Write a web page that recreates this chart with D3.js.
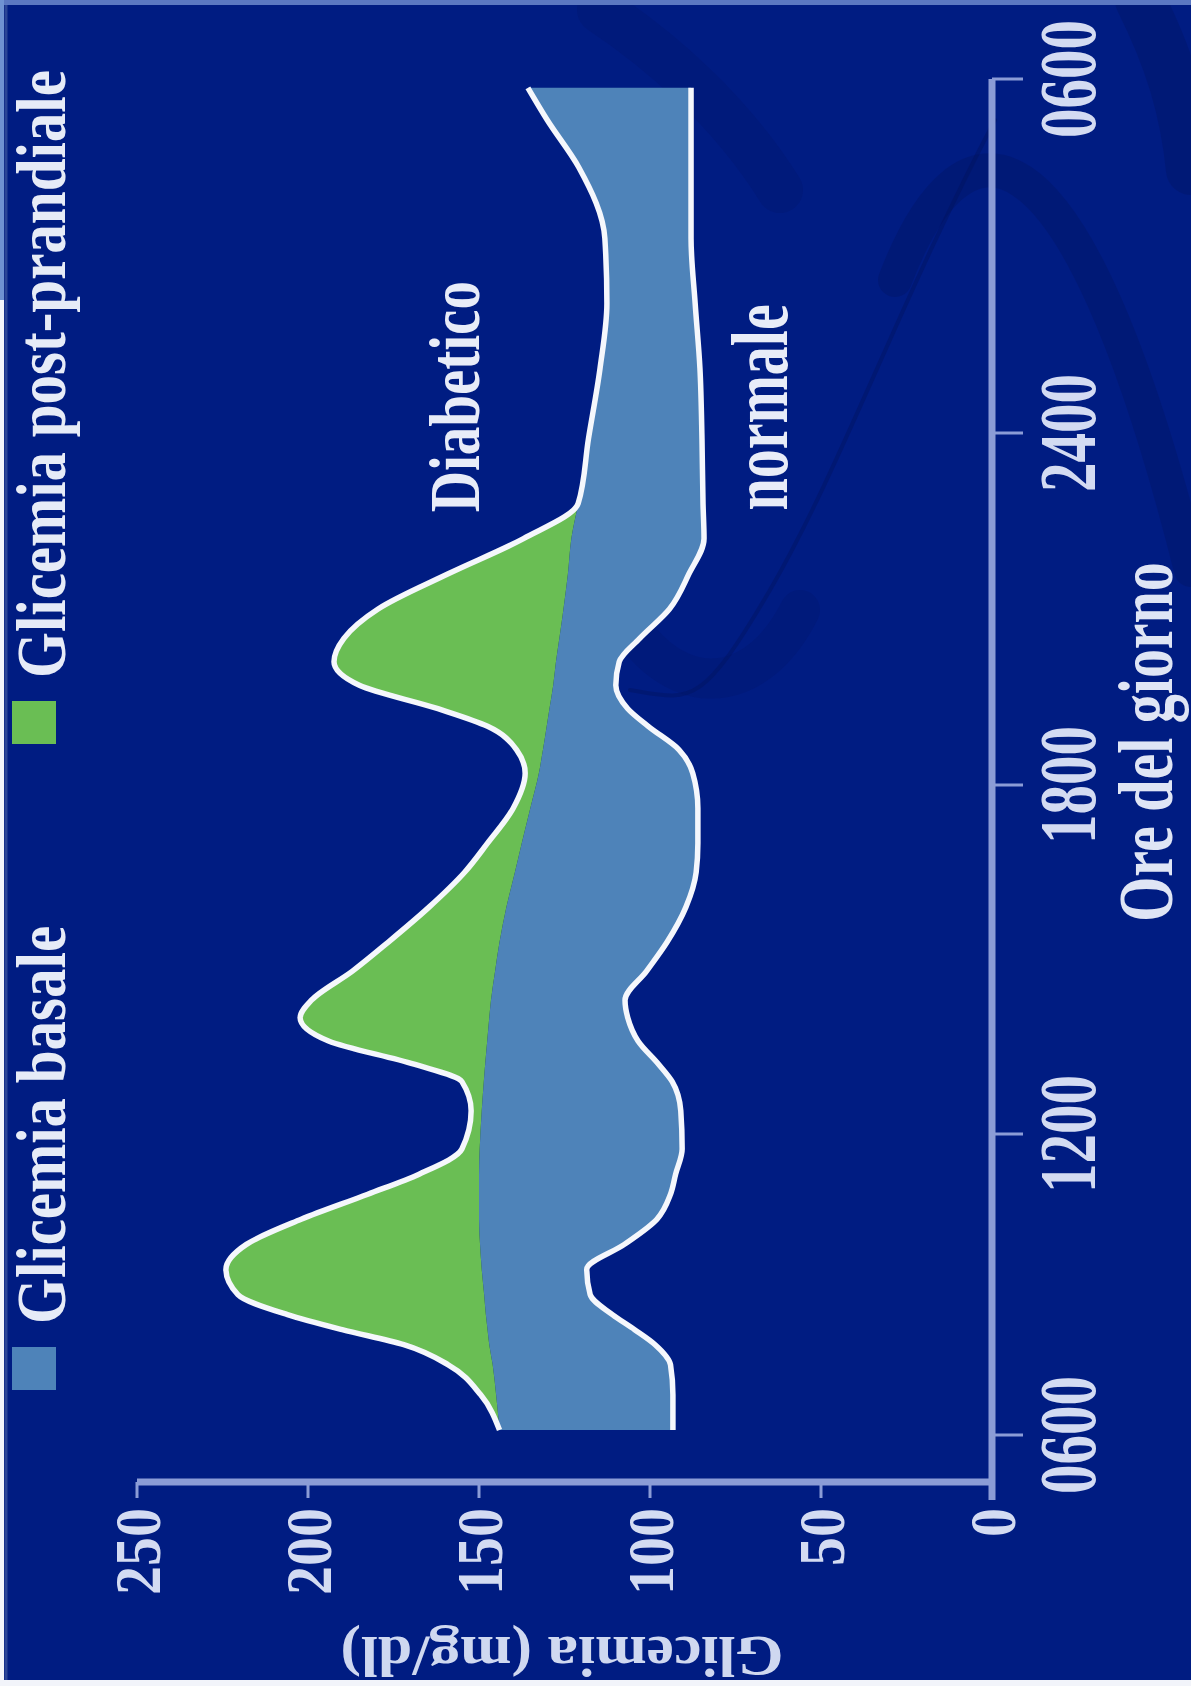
<!DOCTYPE html>
<html>
<head>
<meta charset="utf-8">
<script src="https://cdn.jsdelivr.net/npm/d3@7"></script>
<style>
  html, body { margin: 0; padding: 0; background: #001c82; }
  svg { display: block; }
</style>
</head>
<body>
<div id="chart"></div>
<script>
// hours of the day (6 = 0600, 30 = 0600 next day)
var hours     = [6.1, 6.8, 7.4, 7.8, 8.1, 8.4, 8.8, 9.3, 9.8, 10.3, 10.8, 11.2, 11.7, 12.4, 12.9, 13.2, 13.6, 14.0, 14.3, 14.8, 15.3, 15.9, 16.5, 17.0, 17.6, 18.2, 18.6, 19.0, 19.3, 19.7, 20.1, 20.5, 21.0, 21.6, 22.2, 22.8, 23.9, 25.1, 26.2, 27.3, 28.5, 29.3, 29.85];
var diabetico = [144, 149.5, 159, 172, 190, 206, 220.5, 224, 218, 202, 182.5, 167.5, 155, 152.3, 155, 169, 194, 202.3, 199, 187, 176.5, 164.6, 154.2, 147.5, 140, 136.5, 139, 147.5, 162, 185, 192.4, 189.5, 179.5, 159, 137, 121, 118, 114.6, 112.6, 113.2, 120.8, 130, 135.7];
var basale    = [144, 145, 146, 147, 147.5, 148, 148.5, 149.2, 149.7, 150, 150, 150, 149.8, 149.2, 148.6, 148.2, 147.6, 147, 146.5, 145.3, 144, 142, 139.5, 137.5, 135, 132.5, 131.3, 130.2, 129.4, 128.3, 127.5, 126.5, 125.3, 124, 123, 121, 118, 114.6, 112.6, 113.2, 120.8, 130, 135.7];
var normale   = [93.3, 93.3, 94, 98.5, 104.5, 111, 117.5, 118.5, 107.5, 98, 94, 92.5, 90.6, 91, 93.5, 97.5, 103.5, 106.5, 107.3, 101, 95, 89.5, 86.5, 86, 86, 87.5, 91.5, 100.5, 106.5, 110, 109, 103, 94.3, 88.6, 84.2, 84.5, 84.8, 85.4, 86.8, 88, 88, 88, 88];

var hourTicks = [6, 12, 18, 24, 30];
var hourLabels = ["0600", "1200", "1800", "2400", "0600"];
var glucoseTicks = [0, 50, 100, 150, 200, 250];
var legendLabels = ["Glicemia basale", "Glicemia post-prandiale"];
var legendColors = ["#4e83b9", "#6abe54"];

var W = 1191, H = 1686;
var FONT = "'Liberation Serif', 'Times New Roman', serif";

var svg = d3.select("#chart").append("svg")
  .attr("width", W)
  .attr("height", H);

// slide background
svg.append("rect").attr("width", W).attr("height", H).attr("fill", "#001c82");

var deco = svg.append("g").attr("fill", "none").attr("stroke-linecap", "round");
deco.append("path").attr("d", "M895,280 C960,110 1070,90 1191,570")
  .attr("stroke", "#00135e").attr("stroke-width", 34).attr("opacity", 0.3);
deco.append("path").attr("d", "M995,120 C900,300 840,470 770,590 S690,700 630,690")
  .attr("stroke", "#00125a").attr("stroke-width", 4).attr("opacity", 0.35);
deco.append("path").attr("d", "M600,10 C660,50 730,110 780,190")
  .attr("stroke", "#00135e").attr("stroke-width", 46).attr("opacity", 0.2);
deco.append("path").attr("d", "M640,640 C690,700 760,690 800,610")
  .attr("stroke", "#00135e").attr("stroke-width", 40).attr("opacity", 0.2);
deco.append("path").attr("d", "M1140,0 C1170,60 1185,110 1191,170")
  .attr("stroke", "#00135e").attr("stroke-width", 50).attr("opacity", 0.3);

svg.append("rect").attr("x", 0).attr("y", 0).attr("width", W).attr("height", 5).attr("fill", "#5b78c2");
svg.append("rect").attr("x", 0).attr("y", 0).attr("width", 4).attr("height", H).attr("fill", "#f2f4fa");
svg.append("rect").attr("x", 0).attr("y", 0).attr("width", 4).attr("height", 300).attr("fill", "#6f92d2");
svg.append("rect").attr("x", 0).attr("y", H - 6).attr("width", W).attr("height", 6).attr("fill", "#f2f4fa");
svg.append("line").attr("x1", 6).attr("x2", 6).attr("y1", 5).attr("y2", H - 6)
  .attr("stroke", "#2b4596").attr("stroke-width", 3);

// the whole chart is drawn turned a quarter turn counter-clockwise
var g = svg.append("g").attr("transform", "translate(0," + H + ") rotate(-90)");

var x = d3.scaleLinear().domain(hourTicks).range([251, 552, 901, 1253, 1607]);
var y = d3.scaleLinear().domain([0, 250]).range([992, 137]);
var axisX = 204;

var rows = hours.map(function (h, i) {
  return { h: h, d: diabetico[i], b: basale[i], n: normale[i] };
});

var blueArea = d3.area()
  .x(function (d) { return x(d.h); })
  .y0(function (d) { return y(d.n); })
  .y1(function (d) { return y(d.b); })
  .curve(d3.curveMonotoneX);

var greenArea = d3.area()
  .x(function (d) { return x(d.h); })
  .y0(function (d) { return y(d.b); })
  .y1(function (d) { return y(d.d); })
  .curve(d3.curveMonotoneX);

var lineD = d3.line()
  .x(function (d) { return x(d.h); })
  .y(function (d) { return y(d.d); })
  .curve(d3.curveMonotoneX);

var lineN = d3.line()
  .x(function (d) { return x(d.h); })
  .y(function (d) { return y(d.n); })
  .curve(d3.curveMonotoneX);

g.append("path").datum(rows).attr("d", blueArea).attr("fill", legendColors[0]);
g.append("path").datum(rows).attr("d", greenArea).attr("fill", legendColors[1]);

[lineD, lineN].forEach(function (ln) {
  g.append("path").datum(rows).attr("d", ln)
    .attr("fill", "none")
    .attr("stroke", "#f5f7fc")
    .attr("stroke-width", 5.5)
    .attr("stroke-linejoin", "round");
});

// axes
var axisColor = "#8b9cd6";
g.append("line")
  .attr("x1", axisX - 18).attr("x2", x(30))
  .attr("y1", y(0)).attr("y2", y(0))
  .attr("stroke", axisColor).attr("stroke-width", 7);
g.append("line")
  .attr("x1", axisX).attr("x2", axisX)
  .attr("y1", y(250)).attr("y2", y(0) + 3)
  .attr("stroke", axisColor).attr("stroke-width", 7);

g.selectAll(".htick").data(hourTicks).join("line")
  .attr("x1", function (d) { return x(d); })
  .attr("x2", function (d) { return x(d); })
  .attr("y1", y(0)).attr("y2", y(0) + 31)
  .attr("stroke", axisColor).attr("stroke-width", 3);

g.selectAll(".gtick").data(glucoseTicks).join("line")
  .attr("x1", axisX).attr("x2", axisX - 16)
  .attr("y1", function (d) { return y(d); })
  .attr("y2", function (d) { return y(d); })
  .attr("stroke", axisColor).attr("stroke-width", 3);

g.selectAll(".hlabel").data(hourTicks).join("text")
  .attr("transform", function (d) { return "translate(" + x(d) + "," + 1095 + ") scale(1,1.36)"; })
  .attr("text-anchor", "middle")
  .attr("font-family", FONT).attr("font-weight", "bold").attr("font-size", 59)
  .attr("fill", "#d3dbf2")
  .text(function (d, i) { return hourLabels[i]; });

g.selectAll(".glabel").data(glucoseTicks).join("text")
  .attr("transform", function (d) { return "translate(" + (axisX - 26) + "," + (y(d) + 23) + ") scale(1,1.12)"; })
  .attr("text-anchor", "end")
  .attr("font-family", FONT).attr("font-weight", "bold").attr("font-size", 58)
  .attr("fill", "#d3dbf2")
  .text(function (d) { return d; });

g.append("text")
  .attr("transform", "translate(944,1172) scale(1,1.35)")
  .attr("text-anchor", "middle")
  .attr("font-family", FONT).attr("font-weight", "bold").attr("font-size", 58)
  .attr("fill", "#dfe5f5")
  .text("Ore del giorno");

g.append("text")
  .attr("transform", "translate(49,562) rotate(-90) scale(1.1,1)")
  .attr("text-anchor", "middle")
  .attr("font-family", FONT).attr("font-weight", "bold").attr("font-size", 56)
  .attr("fill", "#cfd8f0")
  .text("Glicemia (mg/dl)");

// curve labels
g.append("text")
  .attr("transform", "translate(" + x(22.65) + ",479) scale(1,1.27)")
  .attr("font-family", FONT).attr("font-weight", "bold").attr("font-size", 57)
  .attr("fill", "#e8ecf8")
  .text("Diabetico");

g.append("text")
  .attr("transform", "translate(" + x(22.68) + ",787) scale(1,1.4)")
  .attr("font-family", FONT).attr("font-weight", "bold").attr("font-size", 58)
  .attr("fill", "#e8ecf8")
  .text("normale");

// legend
var legendX = [296, 942];
legendLabels.forEach(function (lab, i) {
  g.append("rect")
    .attr("x", legendX[i]).attr("y", 12)
    .attr("width", 43).attr("height", 44)
    .attr("fill", legendColors[i]);
  g.append("text")
    .attr("transform", "translate(" + (legendX[i] + 66) + ",65) scale(1,1.2)")
    .attr("font-family", FONT).attr("font-weight", "bold").attr("font-size", 59)
    .attr("fill", "#e6ebf7")
    .text(lab);
});
</script>
</body>
</html>
